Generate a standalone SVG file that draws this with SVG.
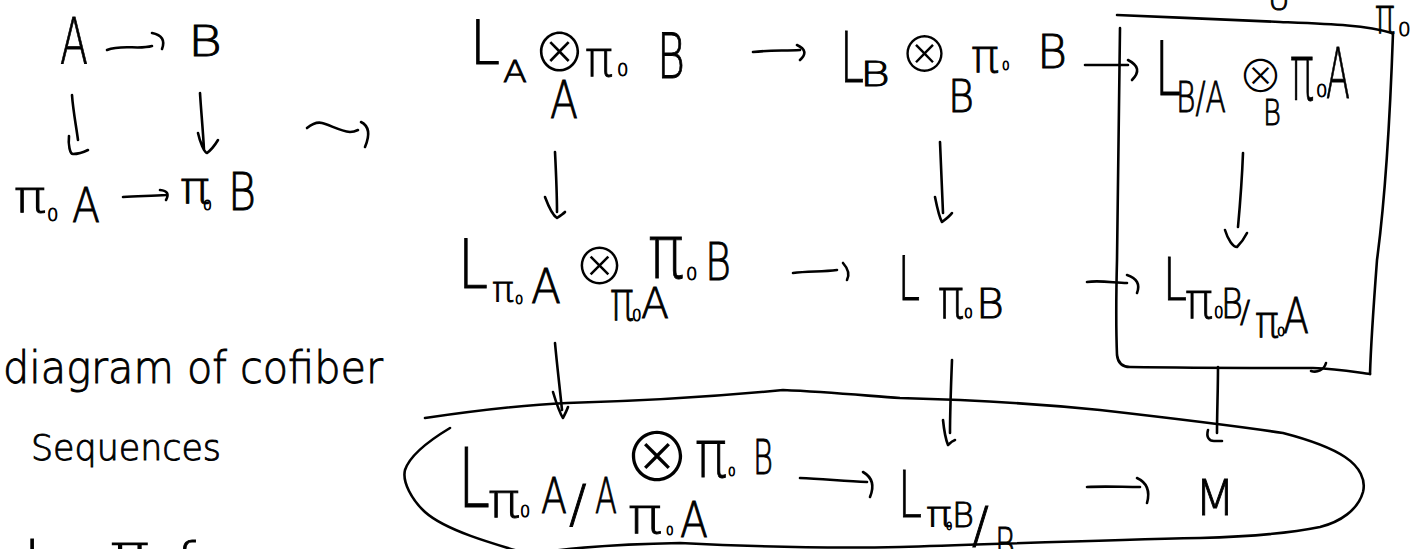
<svg xmlns="http://www.w3.org/2000/svg" width="1410" height="549" viewBox="0 0 1410 549">
  <style>
    .t { font-family: "DejaVu Sans", "Liberation Sans", sans-serif; font-weight: 200; fill: #000; stroke: #000; stroke-width: 0.9; }
    .op { font-family: "Noto Sans CJK JP", "DejaVu Sans", sans-serif; font-weight: 200; stroke: none; }
    .ln { fill: none; stroke: #000; stroke-width: 2.6; stroke-linecap: round; stroke-linejoin: round; }
  </style>
  <rect width="1410" height="549" fill="#fff"/>

  <!-- small square: A -> B over pi0 A -> pi0 B -->
  <g id="n-A"><text class="t" x="60" y="64" font-size="64" textLength="28" lengthAdjust="spacingAndGlyphs">A</text></g>
  <g id="n-B"><text class="t" x="188" y="56" font-size="42" textLength="34" lengthAdjust="spacingAndGlyphs">B</text></g>
  <g id="n-pi0A">
    <text class="t"><tspan x="14" y="212" font-size="44" textLength="32" lengthAdjust="spacingAndGlyphs">π</tspan><tspan x="47" y="221" font-size="18">0</tspan><tspan x="72" y="222" font-size="48" textLength="28" lengthAdjust="spacingAndGlyphs">A</tspan></text>
  </g>
  <g id="n-pi0B">
    <text class="t"><tspan x="180" y="203" font-size="44" textLength="30" lengthAdjust="spacingAndGlyphs">π</tspan><tspan x="203" y="210" font-size="14">0</tspan><tspan x="228" y="210" font-size="52" textLength="28" lengthAdjust="spacingAndGlyphs">B</tspan></text>
  </g>

  <!-- big diagram, row 1 -->
  <g id="n-LA">
    <text class="t"><tspan x="470" y="64" font-size="60" textLength="30" lengthAdjust="spacingAndGlyphs">L</tspan><tspan x="503" y="82" font-size="30" textLength="24" lengthAdjust="spacingAndGlyphs">A</tspan><tspan class="op" x="533" y="72" font-size="53">⊗</tspan><tspan x="585" y="76" font-size="50" textLength="28" lengthAdjust="spacingAndGlyphs">π</tspan><tspan x="617" y="76" font-size="18">0</tspan><tspan x="657" y="78" font-size="62" textLength="28" lengthAdjust="spacingAndGlyphs">B</tspan><tspan x="550" y="118" font-size="52" textLength="28" lengthAdjust="spacingAndGlyphs">A</tspan></text>
  </g>
  <g id="n-LB">
    <text class="t"><tspan x="840" y="82" font-size="70" textLength="24" lengthAdjust="spacingAndGlyphs">L</tspan><tspan x="860" y="86" font-size="34" textLength="30" lengthAdjust="spacingAndGlyphs">B</tspan><tspan class="op" x="900" y="72" font-size="49">⊗</tspan><tspan x="971" y="72" font-size="46" textLength="28" lengthAdjust="spacingAndGlyphs">π</tspan><tspan x="1002" y="70" font-size="12">0</tspan><tspan x="1037" y="68" font-size="46" textLength="30" lengthAdjust="spacingAndGlyphs">B</tspan><tspan x="948" y="112" font-size="44" textLength="26" lengthAdjust="spacingAndGlyphs">B</tspan></text>
  </g>
  <g id="n-LBA">
    <text class="t"><tspan x="1155" y="95" font-size="75" textLength="26" lengthAdjust="spacingAndGlyphs">L</tspan><tspan x="1176" y="112" font-size="42" textLength="50" lengthAdjust="spacingAndGlyphs">B/A</tspan><tspan class="op" x="1238" y="93" font-size="45">⊗</tspan><tspan x="1290" y="100" font-size="78" textLength="24" lengthAdjust="spacingAndGlyphs">π</tspan><tspan x="1316" y="97" font-size="18">0</tspan><tspan x="1326" y="98" font-size="70" textLength="24" lengthAdjust="spacingAndGlyphs">A</tspan><tspan x="1263" y="125" font-size="36" textLength="18" lengthAdjust="spacingAndGlyphs">B</tspan></text>
  </g>

  <!-- row 2 -->
  <g id="n-Lpi0A">
    <text class="t"><tspan x="458" y="288" font-size="68" textLength="30" lengthAdjust="spacingAndGlyphs">L</tspan><tspan x="492" y="302" font-size="36" textLength="22" lengthAdjust="spacingAndGlyphs">π</tspan><tspan x="515" y="304" font-size="13">0</tspan><tspan x="531" y="303" font-size="48" textLength="30" lengthAdjust="spacingAndGlyphs">A</tspan><tspan class="op" x="574" y="285" font-size="51">⊗</tspan><tspan x="648" y="278" font-size="74" textLength="36" lengthAdjust="spacingAndGlyphs">π</tspan><tspan x="686" y="280" font-size="18">0</tspan><tspan x="705" y="280" font-size="52" textLength="26" lengthAdjust="spacingAndGlyphs">B</tspan><tspan x="610" y="320" font-size="56" textLength="24" lengthAdjust="spacingAndGlyphs">π</tspan><tspan x="632" y="321" font-size="15">0</tspan><tspan x="641" y="318" font-size="42" textLength="28" lengthAdjust="spacingAndGlyphs">A</tspan></text>
  </g>
  <g id="n-Lpi0B">
    <text class="t"><tspan x="898" y="300" font-size="60" textLength="22" lengthAdjust="spacingAndGlyphs">L</tspan><tspan x="938" y="318" font-size="56" textLength="26" lengthAdjust="spacingAndGlyphs">π</tspan><tspan x="964" y="318" font-size="14">0</tspan><tspan x="976" y="318" font-size="40" textLength="28" lengthAdjust="spacingAndGlyphs">B</tspan></text>
  </g>
  <g id="n-Lquot">
    <text class="t"><tspan x="1163" y="300" font-size="58" textLength="24" lengthAdjust="spacingAndGlyphs">L</tspan><tspan x="1185" y="318" font-size="50" textLength="28" lengthAdjust="spacingAndGlyphs">π</tspan><tspan x="1214" y="318" font-size="15">0</tspan><tspan x="1221" y="318" font-size="40" textLength="22" lengthAdjust="spacingAndGlyphs">B</tspan><tspan x="1240" y="322" font-size="30">/</tspan><tspan x="1255" y="337" font-size="44" textLength="24" lengthAdjust="spacingAndGlyphs">π</tspan><tspan x="1277" y="336" font-size="13">0</tspan><tspan x="1283" y="333" font-size="50" textLength="26" lengthAdjust="spacingAndGlyphs">A</tspan></text>
  </g>

  <!-- row 3 -->
  <g id="n-Lpi0AA">
    <text class="t"><tspan x="458" y="507" font-size="82" textLength="32" lengthAdjust="spacingAndGlyphs">L</tspan><tspan x="488" y="517" font-size="48" textLength="32" lengthAdjust="spacingAndGlyphs">π</tspan><tspan x="520" y="517" font-size="16">0</tspan><tspan x="541" y="513" font-size="50" textLength="26" lengthAdjust="spacingAndGlyphs">A</tspan><tspan x="569" y="522" font-size="52">/</tspan><tspan x="595" y="513" font-size="50" textLength="22" lengthAdjust="spacingAndGlyphs">A</tspan><tspan class="op" x="623" y="482" font-size="68">⊗</tspan><tspan x="695" y="477" font-size="66" textLength="32" lengthAdjust="spacingAndGlyphs">π</tspan><tspan x="728" y="476" font-size="12">0</tspan><tspan x="753" y="474" font-size="48" textLength="20" lengthAdjust="spacingAndGlyphs">B</tspan><tspan x="628" y="533" font-size="50" textLength="34" lengthAdjust="spacingAndGlyphs">π</tspan><tspan x="666" y="535" font-size="12">0</tspan><tspan x="680" y="537" font-size="50" textLength="28" lengthAdjust="spacingAndGlyphs">A</tspan></text>
  </g>
  <g id="n-Lpi0BB">
    <text class="t"><tspan x="898" y="517" font-size="64" textLength="24" lengthAdjust="spacingAndGlyphs">L</tspan><tspan x="926" y="527" font-size="36" textLength="26" lengthAdjust="spacingAndGlyphs">π</tspan><tspan x="946" y="530" font-size="10">0</tspan><tspan x="952" y="527" font-size="34" textLength="22" lengthAdjust="spacingAndGlyphs">B</tspan><tspan x="972" y="542" font-size="50">/</tspan><tspan x="995" y="560" font-size="44" textLength="20" lengthAdjust="spacingAndGlyphs">B</tspan></text>
  </g>
  <g id="n-M"><text class="t" x="1195" y="515" font-size="50" textLength="40" lengthAdjust="spacingAndGlyphs">M</text></g>

  <!-- notes on the left and cut-off marks at the edges -->
  <g id="note">
    <text class="t" x="3" y="383" font-size="44" textLength="380" lengthAdjust="spacingAndGlyphs">diagram of cofiber</text>
    <text class="t" x="31" y="460" font-size="36" textLength="190" lengthAdjust="spacingAndGlyphs">Sequences</text>
    <text class="t"><tspan x="24" y="585" font-size="60">l</tspan><tspan x="110" y="570" font-size="50" textLength="40" lengthAdjust="spacingAndGlyphs">π</tspan><tspan x="176" y="582" font-size="56">f</tspan></text>
    <text class="t"><tspan x="1268" y="10" font-size="30">U</tspan></text>
    <text class="t"><tspan x="1375" y="33" font-size="50" textLength="20" lengthAdjust="spacingAndGlyphs">π</tspan><tspan x="1398" y="36" font-size="20">0</tspan></text>
  </g>

  <!-- enclosing box and loop -->
  <g id="box">
    <path class="ln" d="M1117,15 C1170,17 1230,20 1280,22 C1330,24 1365,25 1392,33"/>
    <path class="ln" d="M1120,28 C1119,120 1118,200 1117,260 C1116,300 1116,330 1117,355 C1118,364 1123,367 1130,367 C1200,368 1260,368 1313,368 C1340,369 1360,373 1370,374"/>
    <path class="ln" d="M1393,33 C1390,120 1385,200 1377,260 C1374,300 1371,340 1370,374"/>
    <path class="ln" d="M1311,371 C1317,373 1324,370 1326,363"/>
  </g>
  <g id="loop">
    <path class="ln" d="M425,418 C480,410 520,405 567,403 C640,401 700,398 783,390 C830,392 870,396 900,398 C980,400 1050,405 1100,410 C1170,418 1230,425 1283,433 C1310,440 1330,447 1345,457 C1360,467 1366,480 1363,492 C1358,510 1340,522 1320,527 C1280,535 1240,537 1200,538 C1100,540 1000,544 900,547 C800,549 720,545 680,543 C620,544 580,547 545,552"/>
    <path class="ln" d="M450,428 C430,440 410,455 405,470 C402,482 412,500 425,512 C445,530 490,543 535,556"/>
  </g>

  <!-- connectors -->
  <g id="edges">
    <path class="ln" d="M107,50 C122,44 138,50 152,46 M152,33 Q167,36 162,49"/>
    <path class="ln" d="M72,95 C73,110 76,125 78,140 M69,136 C68,145 70,154 73,154 C78,154 84,152 88,150"/>
    <path class="ln" d="M200,93 C201,110 203,130 204,150 M198,133 C200,142 204,152 207,153 C211,150 215,145 218,140"/>
    <path class="ln" d="M123,197 C138,196 152,196 166,195 M160,190 Q171,191 166,200"/>
    <path class="ln" d="M307,128 C312,124 318,122 322,123 C330,125 340,131 350,132 C353,132 356,131 358,130 M361,122 Q373,128 365,147"/>
    <path class="ln" d="M753,52 C770,50 785,51 800,50 M797,45 Q810,51 800,60"/>
    <path class="ln" d="M1085,65 L1128,65 M1128,60 Q1144,68 1132,80"/>
    <path class="ln" d="M555,152 C556,172 557,192 557,212 M545,197 C548,205 552,215 557,218 C560,216 563,214 565,212"/>
    <path class="ln" d="M940,142 C941,165 942,190 943,213 M935,197 C937,207 939,217 942,222 C946,219 950,216 952,213"/>
    <path class="ln" d="M1243,153 C1242,180 1240,205 1238,227 M1225,230 C1228,240 1233,247 1237,247 C1242,242 1245,237 1247,233"/>
    <path class="ln" d="M793,273 C808,271 822,272 837,270 M843,263 Q851,272 847,280"/>
    <path class="ln" d="M1087,282 C1100,280 1115,283 1127,283 M1127,275 Q1142,280 1137,293"/>
    <path class="ln" d="M555,343 C557,365 560,390 562,410 M553,392 C556,402 559,412 563,418 C565,414 567,410 568,407"/>
    <path class="ln" d="M952,360 C951,385 950,410 950,433 M943,420 C944,430 946,440 948,445 C950,443 952,441 955,440"/>
    <path class="ln" d="M1218,367 C1218,390 1217,412 1217,433 M1208,430 C1206,437 1209,441 1214,441 L1222,441"/>
    <path class="ln" d="M800,478 C822,479 845,481 867,482 M863,472 Q877,480 870,497"/>
    <path class="ln" d="M1087,487 C1105,486 1122,487 1140,487 M1137,478 Q1152,485 1147,503"/>
  </g>
</svg>
